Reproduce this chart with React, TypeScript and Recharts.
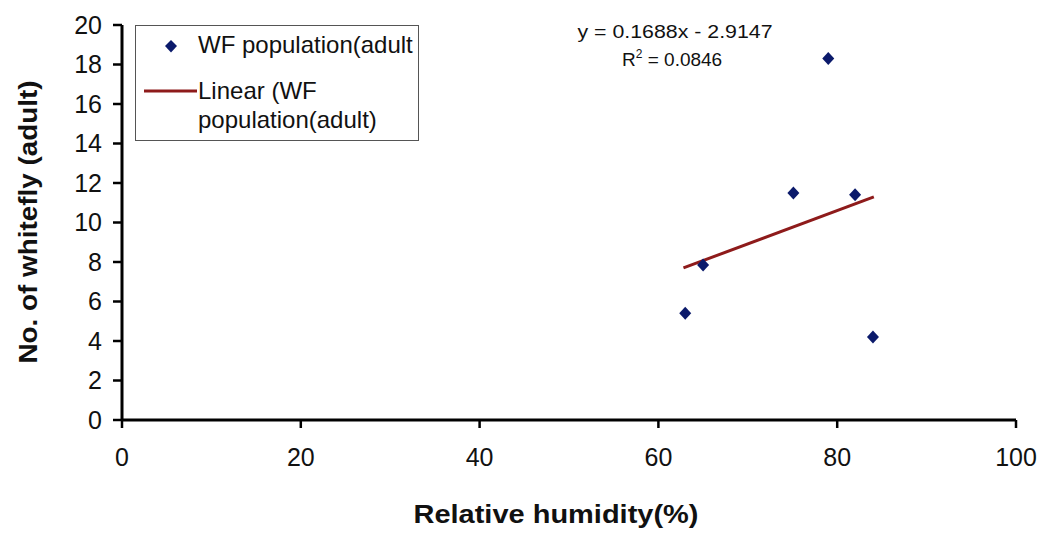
import React from 'react';
import { ScatterChart, Scatter, XAxis, YAxis, Legend, Customized } from 'recharts';

const humidity = [63.0, 65.0, 75.1, 79.0, 82.0, 84.0];
const whitefly = [5.4, 7.85, 11.5, 18.3, 11.4, 4.2];
const trendX = [62.8, 84.1];
const trendY = [7.7, 11.3];
const xTicks = [0, 20, 40, 60, 80, 100];
const yTicks = [0, 2, 4, 6, 8, 10, 12, 14, 16, 18, 20];
const seriesName = 'WF population(adult';
const trendName = 'Linear (WF population(adult)';
const equation = 'y = 0.1688x - 2.9147';
const rSquared = '0.0846';

const points = humidity.map((x, i) => ({ x, y: whitefly[i] }));
const trend = trendX.map((x, i) => ({ x, y: trendY[i] }));

const NAVY = '#0b1a6b';
const RED = '#8e1b1b';
const FONT = '"Liberation Sans", Arial, sans-serif';

const Diamond = (props: any) => {
  const { cx, cy } = props;
  if (cx == null || cy == null) return <g />;
  const w = 6, h = 6.5;
  return <polygon points={`${cx},${cy - h} ${cx + w},${cy} ${cx},${cy + h} ${cx - w},${cy}`} fill={NAVY} />;
};

const NoShape = () => <g />;

const LegendBox = () => (
  <div style={{ width: 284, height: 116, border: '1.5px solid #555', boxSizing: 'border-box', background: '#fff' }}>
    <svg width={281} height={113} style={{ display: 'block' }}>
      <polygon points="35,14 41,20 35,26.5 29,20" fill={NAVY} />
      <text x={62} y={27} fontFamily={FONT} fontSize={24} fill="#111">{seriesName}</text>
      <line x1={8} y1={65} x2={61} y2={65} stroke={RED} strokeWidth={3} />
      <text x={62} y={73} fontFamily={FONT} fontSize={24} fill="#111">Linear (WF</text>
      <text x={62} y={102} fontFamily={FONT} fontSize={24} fill="#111">population(adult)</text>
    </svg>
  </div>
);

const EquationText = () => (
  <g fontFamily={FONT} fill="#111">
    <text x={675} y={38} fontSize={19} textAnchor="middle" textLength={195} lengthAdjust="spacingAndGlyphs">{equation}</text>
    <text x={622} y={66} fontSize={19}>
      R<tspan fontSize={12} dy={-8}>2</tspan><tspan dy={8}>{` = ${rSquared}`}</tspan>
    </text>
  </g>
);

const XLabel = () => (
  <text x={556} y={523} fontFamily={FONT} fontWeight="bold" fontSize={26} fill="#111" textAnchor="middle" textLength={285} lengthAdjust="spacingAndGlyphs">
    Relative humidity(%)
  </text>
);

const YLabel = () => (
  <text x={37} y={222} transform="rotate(-90 37 222)" fontFamily={FONT} fontWeight="bold" fontSize={26} fill="#111" textAnchor="middle" textLength={283} lengthAdjust="spacingAndGlyphs">
    No. of whitefly (adult)
  </text>
);

export default function App() {
  return (
    <div style={{ position: 'absolute', left: 0, top: 0, width: 1043, height: 534, background: '#fff' }}>
      <ScatterChart width={1043} height={534} margin={{ top: 25, right: 27, bottom: 0, left: 0 }}>
        <XAxis
          type="number"
          dataKey="x"
          domain={[0, 100]}
          ticks={xTicks}
          height={114}
          stroke="#000"
          axisLine={{ stroke: '#000', strokeWidth: 3 }}
          tickLine={{ stroke: '#000', strokeWidth: 2.5 }}
          tickSize={8}
          tickMargin={20}
          tick={{ fontFamily: FONT, fontSize: 25, fill: '#111' }}
          allowDataOverflow
        />
        <YAxis
          type="number"
          dataKey="y"
          domain={[0, 20]}
          ticks={yTicks}
          width={122}
          stroke="#000"
          axisLine={{ stroke: '#000', strokeWidth: 3 }}
          tickLine={{ stroke: '#000', strokeWidth: 2.5 }}
          tickSize={9}
          tickMargin={11}
          tick={{ fontFamily: FONT, fontSize: 25, fill: '#111' }}
          interval={0}
          allowDataOverflow
        />
        <Legend
          layout="vertical"
          align="center"
          verticalAlign="middle"
          content={<LegendBox />}
          wrapperStyle={{ position: 'absolute', left: 135, top: 25, width: 284, height: 116 }}
        />
        <Scatter name={trendName} data={trend} line={{ stroke: RED, strokeWidth: 3 }} shape={NoShape} isAnimationActive={false} legendType="line" />
        <Scatter name={seriesName} data={points} shape={Diamond} fill={NAVY} isAnimationActive={false} legendType="diamond" />
        <Customized component={EquationText} />
        <Customized component={XLabel} />
        <Customized component={YLabel} />
      </ScatterChart>
    </div>
  );
}
